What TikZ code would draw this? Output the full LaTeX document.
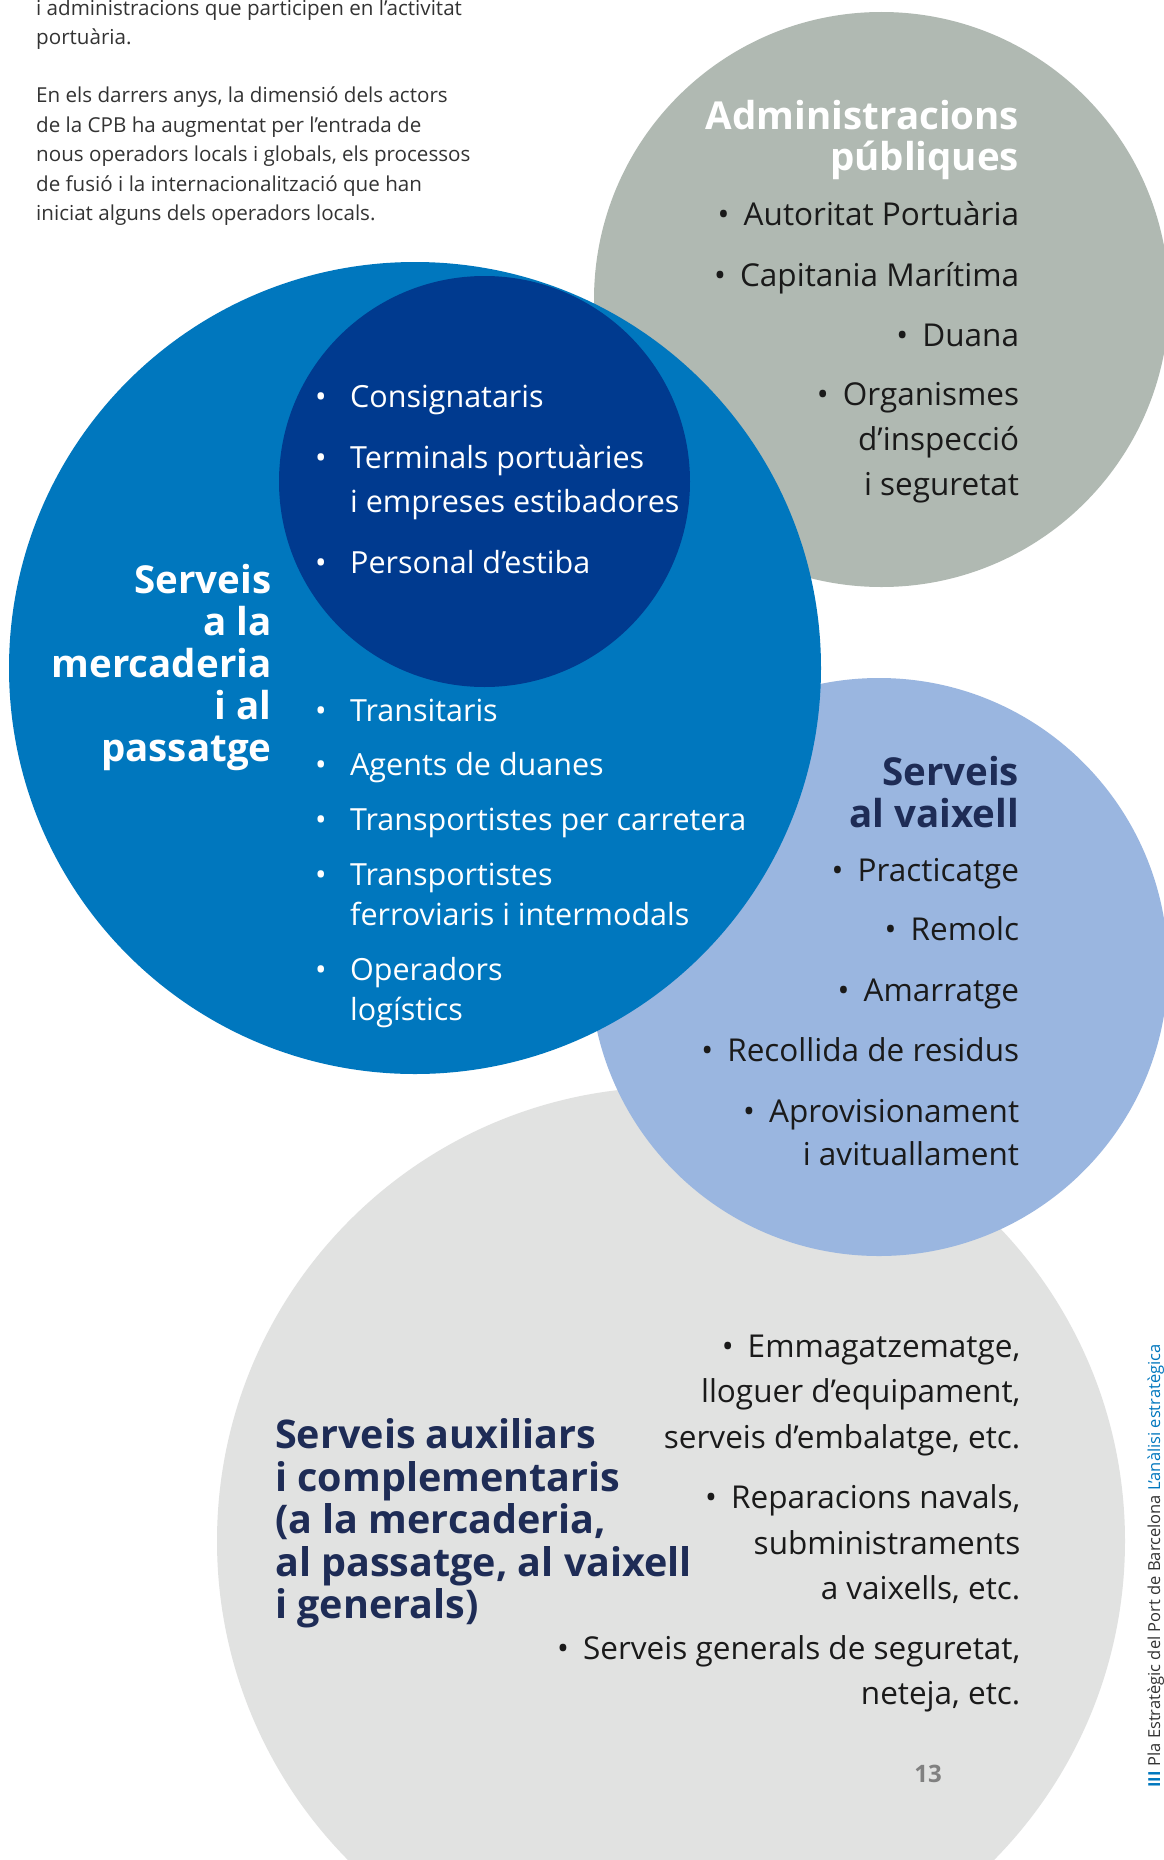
\documentclass[tikz,border=0pt]{standalone}
\usepackage{fontspec}
\setmainfont{Open Sans}
\definecolor{cgray}{HTML}{B0B9B2}
\definecolor{cblue}{HTML}{0077BE}
\definecolor{cdark}{HTML}{003A8F}
\definecolor{clight}{HTML}{9AB6E0}
\definecolor{cpale}{HTML}{E1E2E1}
\definecolor{cnavy}{HTML}{1E2C56}
\definecolor{ctext}{HTML}{1A1A1A}
\definecolor{cpara}{HTML}{333333}
\newcommand{\mystrut}{\rule{0pt}{1em}}
\newcommand{\mybul}{•\hspace{0.45em}}
\newcommand{\lbul}{\llap{•\hspace{23.6pt}}}
\tikzset{
  bodytxt/.style={inner sep=0pt, text=ctext, font=\fontsize{31.5}{#1}\selectfont},
  bodytxt/.default=45,
  whtxt/.style={inner sep=0pt, text=white, font=\fontsize{30.5}{#1}\selectfont},
  whtxt/.default=44,
  headtxt/.style={inner sep=0pt, font=\bfseries\fontsize{38.5}{#1}\selectfont},
  headtxt/.default=42,
  paratxt/.style={inner sep=0pt, text=cpara, align=left, anchor=north west, font=\fontsize{20.6}{29.5}\selectfont},
}
\begin{document}
\begin{tikzpicture}[x=1pt,y=-1pt]
\useasboundingbox (0,0) rectangle (1164,1860);
\clip (0,0) rectangle (1164,1860);
\fill[white] (0,0) rectangle (1164,1860);
% circles
\fill[cpale] (671,1541) circle[radius=454pt];
\fill[clight] (879,967) circle[radius=289pt];
\fill[cgray] (881.5,299.5) circle[radius=287.5pt];
\fill[cblue] (415,668) circle[radius=406pt];
\fill[cdark] (484.5,481.5) circle[radius=205.5pt];

% top-left paragraphs
\node[paratxt] (p1) at (36,15-20.6) {\mystrut i administracions que participen en l’activitat\\portuària.};
\node[paratxt] (p2) at (36,102.7-20.6) {\mystrut En els darrers anys, la dimensió dels actors\\de la CPB ha augmentat per l’entrada de\\nous operadors locals i globals, els processos\\de fusió i la internacionalització que han\\iniciat alguns dels operadors locals.};

% Administracions publiques
\node[headtxt=41, text=white, align=right, anchor=north east] (adm) at (1019.3,129-38.5) {\mystrut Administracions\\públiques};
\node[bodytxt, anchor=base east] (g1) at (1019.3,225.7) {\mybul Autoritat Portuària};
\node[bodytxt, anchor=base east] (g2) at (1019.3,286.7) {\mybul Capitania Marítima};
\node[bodytxt, anchor=base east] (g3) at (1019.3,346.7) {\mybul Duana};
\node[bodytxt=45, align=right, anchor=north east] (g4) at (1019.3,405-31.5) {\mystrut\mybul Organismes\\d’inspecció\\i seguretat};

% Serveis a la mercaderia
\node[headtxt=42, text=white, align=right, anchor=north east] (sm) at (271.7,593.3-38.5) {\mystrut Serveis\\a la\\mercaderia\\i al\\passatge};
\node[whtxt, anchor=base west] (c1) at (350,407.7) {\lbul Consignataris};
\node[whtxt=44, align=left, anchor=north west] (c2) at (350,468.3-30.5) {\mystrut\lbul Terminals portuàries\\i empreses estibadores};
\node[whtxt, anchor=base west] (c3) at (350,573.3) {\lbul Personal d’estiba};
\node[whtxt, anchor=base west] (b1) at (350,721) {\lbul Transitaris};
\node[whtxt, anchor=base west] (b2) at (350,775.7) {\lbul Agents de duanes};
\node[whtxt, anchor=base west] (b3) at (350,830.7) {\lbul Transportistes per carretera};
\node[whtxt=40, align=left, anchor=north west] (b4) at (350,885.7-30.5) {\mystrut\lbul Transportistes\\ferroviaris i intermodals};
\node[whtxt=40, align=left, anchor=north west] (b5) at (350,980-30.5) {\mystrut\lbul Operadors\\logístics};

% Serveis al vaixell
\node[headtxt=42, text=cnavy, align=right, anchor=north east] (sv) at (1019.3,785-38.5) {\mystrut Serveis\\al vaixell};
\node[bodytxt, anchor=base east] (v1) at (1019.3,881) {\mybul Practicatge};
\node[bodytxt, anchor=base east] (v2) at (1019.3,940.7) {\mybul Remolc};
\node[bodytxt, anchor=base east] (v3) at (1019.3,1001.7) {\mybul Amarratge};
\node[bodytxt, anchor=base east] (v4) at (1019.3,1061.7) {\mybul Recollida de residus};
\node[bodytxt=43, align=right, anchor=north east] (v5) at (1019.3,1122.3-31.5) {\mystrut\mybul Aprovisionament\\i avituallament};

% Serveis auxiliars
\node[inner sep=0pt, text=cnavy, font=\bfseries\fontsize{39.5}{42.5}\selectfont, align=left, anchor=north west] (sa) at (275,1448.3-39.5) {\mystrut Serveis auxiliars\\i complementaris\\(a la mercaderia,\\al passatge, al vaixell\\i generals)};
\node[bodytxt=45.7, align=right, anchor=north east] (a1) at (1020.5,1357-31.5) {\mystrut\mybul Emmagatzematge,\\lloguer d’equipament,\\serveis d’embalatge, etc.};
\node[bodytxt=45.5, align=right, anchor=north east] (a2) at (1020.5,1508.6-31.5) {\mystrut\mybul Reparacions navals,\\subministraments\\a vaixells, etc.};
\node[bodytxt=45.7, align=right, anchor=north east] (a3) at (1020.5,1658.8-31.5) {\mystrut\mybul Serveis generals de seguretat,\\neteja, etc.};

% page number
\node[inner sep=0pt, anchor=base, text=black!50, font=\bfseries\fontsize{24}{28}\selectfont] (pn) at (928,1782) {13};

% vertical running title
\node[inner sep=0pt, anchor=base west, rotate=90, text=black!80, font=\fontsize{16.5}{19}\selectfont] (rt) at (1160,1788) {\textcolor{cblue}{\bfseries III}\hspace{0.3em}Pla Estratègic del Port de Barcelona \textcolor{cblue}{L’anàlisi estratègica}};
\end{tikzpicture}
\end{document}
